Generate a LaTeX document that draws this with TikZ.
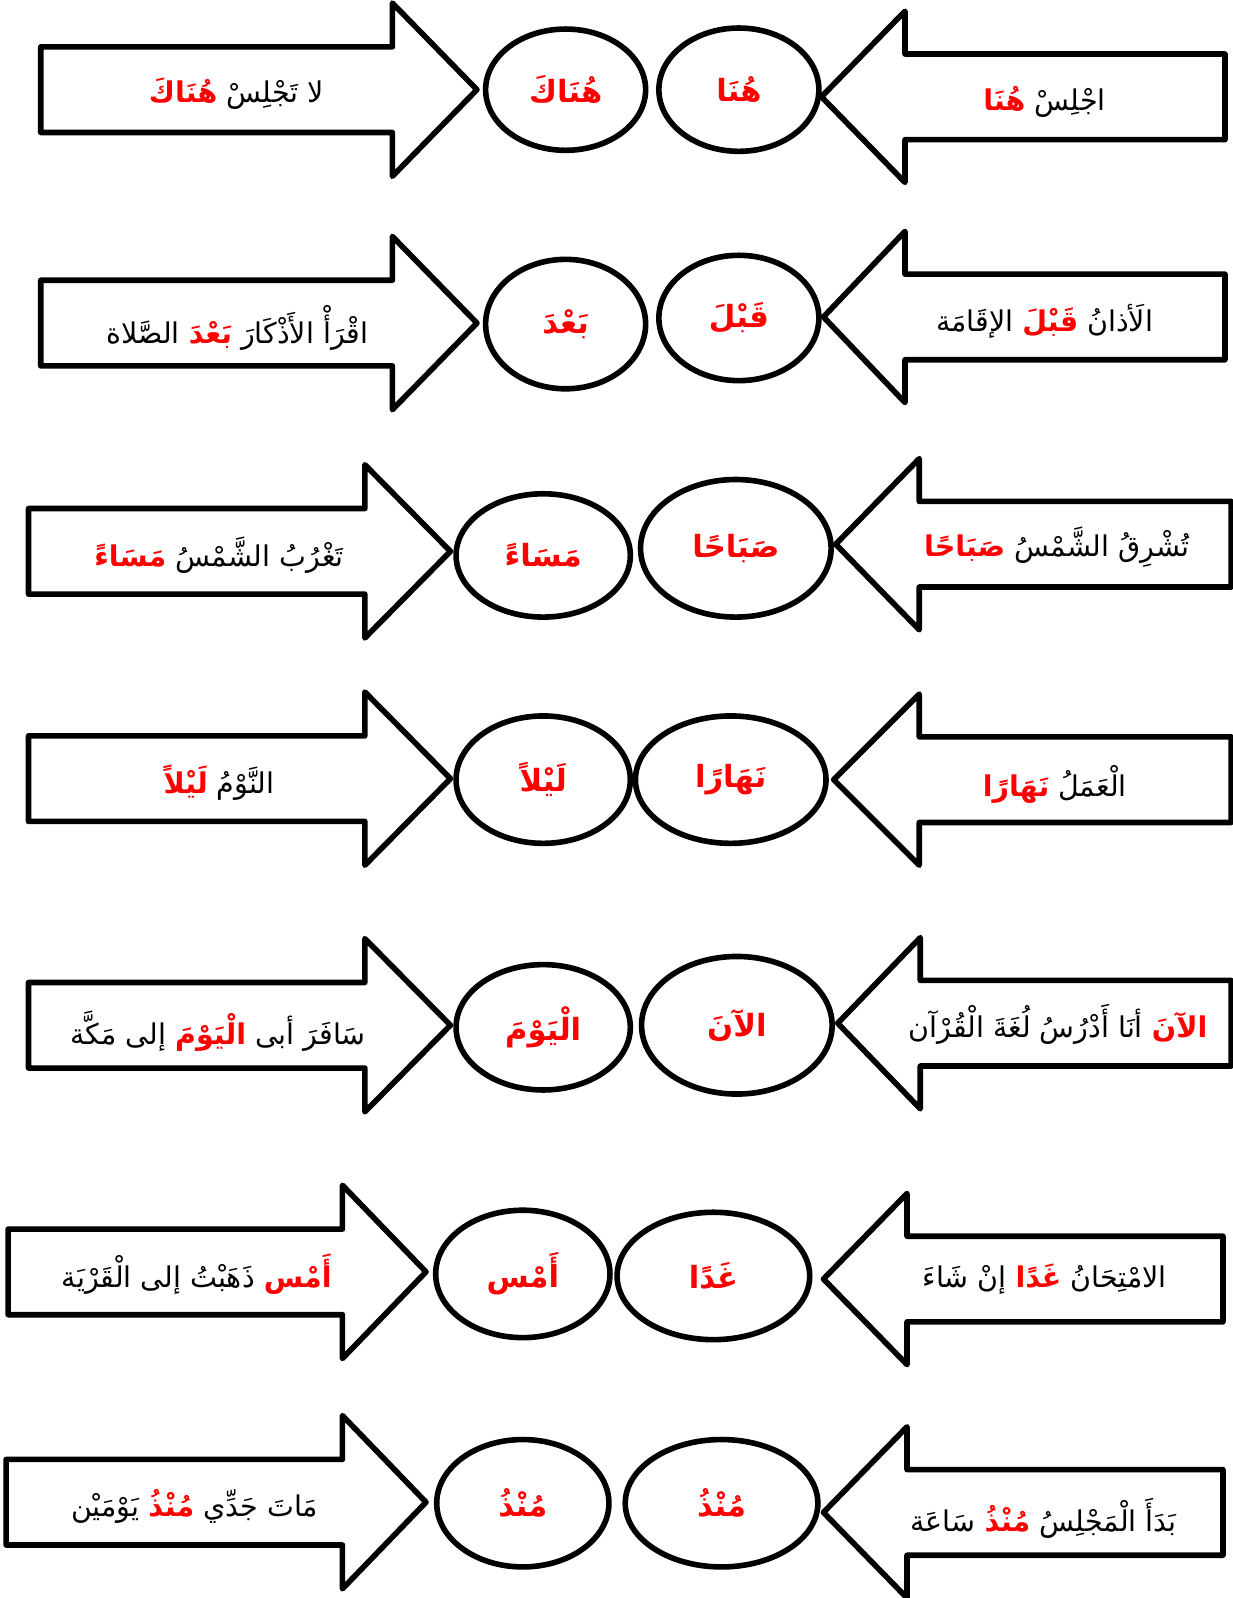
\documentclass[tikz,border=0pt]{standalone}
\usepackage{fontspec}
\usetikzlibrary{shapes.geometric}
\newfontfamily\arabicfont[Script=Arabic]{DejaVu Sans}
\TeXXeTstate=1

\begin{document}
\begin{tikzpicture}[x=1pt, y=-1pt]
    % Define colours
    \definecolor{borderColour}{HTML}{000000}
    \definecolor{wordColour}{HTML}{FF0000}

    % Define styles
    \tikzset{
        outline/.style={draw=borderColour, fill=white, line width=5.5pt, line join=round},
        oval/.style={ellipse, draw=borderColour, line width=5.5pt, inner sep=0pt, text=wordColour,
            font=\arabicfont\bfseries\fontsize{30}{36}\selectfont},
        sentence/.style={inner sep=0pt, font=\arabicfont\fontsize{28}{34}\selectfont}
    }
    % Runs of text, written left to right as they stand on the page
    \def\blackRun#1{\beginR #1\endR}
    \def\redWord#1{{\color{wordColour}\bfseries\beginR #1\endR}}

    % Fix picture size
    \useasboundingbox (0,0) rectangle (1209,1568);

    % Draw left arrows (pointing right)
    \foreach \xa/\xn/\xt/\yc in {40/385/468/88, 40/385/468/317, 28/358/442/541, 28/358/442/764,
                                 28/358/442/1006, 8/336/418/1248, 6/336/418/1474}
        \draw[outline] (\xa,\yc-42) -- (\xn,\yc-42) -- (\xn,\yc-85) -- (\xt,\yc)
            -- (\xn,\yc+85) -- (\xn,\yc+42) -- (\xa,\yc+42) -- cycle;

    % Draw right arrows (pointing left)
    \foreach \xa/\xn/\xt/\yc in {1202/888/806/95, 1202/888/808/311, 1208/902/820/534, 1208/902/818/765,
                                 1208/903/822/1004, 1200/890/808/1255, 1200/890/808/1484}
        \draw[outline] (\xa,\yc-42) -- (\xn,\yc-42) -- (\xn,\yc-84) -- (\xt,\yc)
            -- (\xn,\yc+84) -- (\xn,\yc+42) -- (\xa,\yc+42) -- cycle;

    % Row 1
    \node[oval, minimum width=157, minimum height=119] (leftOval1) at (555,88) {\beginR هُنَاكَ\endR};
    \node[oval, minimum width=157, minimum height=121] (rightOval1) at (725,88) {\beginR هُنَا\endR};
    \node[sentence] (leftText1) at (232,92) {\redWord{هُنَاكَ} \blackRun{لا تَجْلِسْ}};
    \node[sentence] (rightText1) at (1025,100) {\redWord{هُنَا} \blackRun{اجْلِسْ}};

    % Row 2
    \node[oval, minimum width=157, minimum height=127] (leftOval2) at (555,318) {\beginR بَعْدَ\endR};
    \node[oval, minimum width=157, minimum height=123] (rightOval2) at (725,312) {\beginR قَبْلَ\endR};
    \node[sentence] (leftText2) at (233,322) {\blackRun{الصَّلاة} \redWord{بَعْدَ} \blackRun{اقْرَأْ الأَذْكَارَ}};
    \node[sentence] (rightText2) at (1025,315) {\blackRun{الإقَامَة} \redWord{قَبْلَ} \blackRun{الَأذانُ}};

    % Row 3
    \node[oval, minimum width=171, minimum height=121] (leftOval3) at (533,545) {\beginR مَسَاءً\endR};
    \node[oval, minimum width=187, minimum height=135] (rightOval3) at (722,538) {\beginR صَبَاحًا\endR};
    \node[sentence] (leftText3) at (215,545) {\redWord{مَسَاءً} \blackRun{تَغْرُبُ الشَّمْسُ}};
    \node[sentence] (rightText3) at (1037,537) {\redWord{صَبَاحًا} \blackRun{تُشْرِقُ الشَّمْسُ}};

    % Row 4
    \node[oval, minimum width=171, minimum height=125] (leftOval4) at (533,765) {\beginR لَيْلاً\endR};
    \node[oval, minimum width=187, minimum height=125] (rightOval4) at (717,765) {\beginR نَهَارًا\endR};
    \node[sentence] (leftText4) at (215,768) {\redWord{لَيْلاً} \blackRun{النَّوْمُ}};
    \node[sentence] (rightText4) at (1035,770) {\redWord{نَهَارًا} \blackRun{الْعَمَلُ}};

    % Row 5
    \node[oval, minimum width=171, minimum height=123] (leftOval5) at (533,1008) {\beginR الْيَوْمَ\endR};
    \node[oval, minimum width=187, minimum height=135] (rightOval5) at (723,1006) {\beginR الآنَ\endR};
    \node[sentence] (leftText5) at (214,1012) {\blackRun{إلى مَكَّة} \redWord{الْيَوْمَ} \blackRun{سَافَرَ أبى}};
    \node[sentence] (rightText5) at (1038,1005) {\blackRun{أنَا أَدْرُسُ لُغَةَ الْقُرْآن} \redWord{الآنَ}};

    % Row 6
    \node[oval, minimum width=171, minimum height=125] (leftOval6) at (513,1250) {\beginR أَمْس\endR};
    \node[oval, minimum width=189, minimum height=125] (rightOval6) at (700,1252) {\beginR غَدًا\endR};
    \node[sentence] (leftText6) at (193,1250) {\blackRun{ذَهَبْتُ إلى الْقَرْيَة} \redWord{أَمْس}};
    \node[sentence] (rightText6) at (1025,1255) {\blackRun{إنْ شَاءَ} \redWord{غَدًا} \blackRun{الامْتِحَانُ}};

    % Row 7
    \node[oval, minimum width=169, minimum height=125] (leftOval7) at (513,1475) {\beginR مُنْذُ\endR};
    \node[oval, minimum width=189, minimum height=125] (rightOval7) at (708,1475) {\beginR مُنْذُ\endR};
    \node[sentence] (leftText7) at (191,1478) {\blackRun{يَوْمَيْن} \redWord{مُنْذُ} \blackRun{مَاتَ جَدِّي}};
    \node[sentence] (rightText7) at (1024,1490) {\blackRun{سَاعَة} \redWord{مُنْذُ} \blackRun{بَدَأَ الْمَجْلِسُ}};

\end{tikzpicture}
\end{document}
